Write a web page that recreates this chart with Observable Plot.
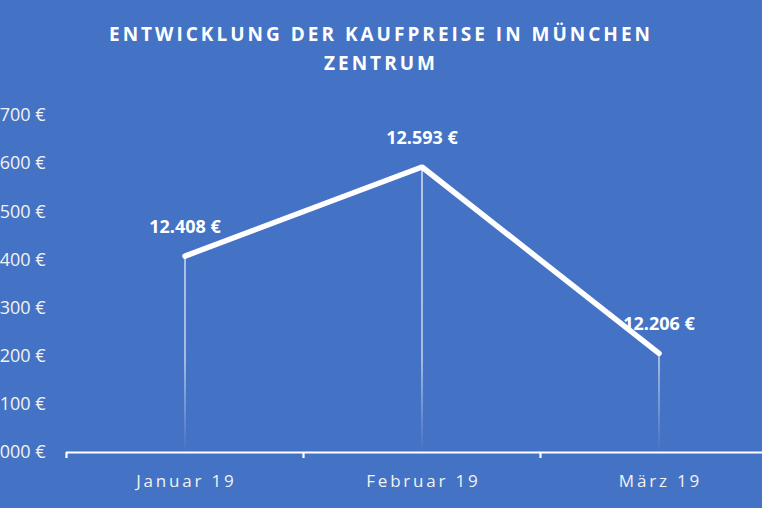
<!DOCTYPE html>
<html>
<head>
<meta charset="utf-8">
<script src="https://cdn.jsdelivr.net/npm/d3@7"></script>
<script src="https://cdn.jsdelivr.net/npm/@observablehq/plot@0.6"></script>
<style>
  html, body { margin: 0; padding: 0; background: #4472C4; overflow: hidden; }
  #title {
    height: 90px; box-sizing: border-box; padding-top: 20px;
    text-align: center; color: #ffffff;
    font-family: "Open Sans", sans-serif; font-weight: 700;
    font-size: 19px; line-height: 29px; letter-spacing: 3.0px;
  }
  #chart svg { display: block; }
  #chart svg text.month { letter-spacing: 2.8px; }
</style>
</head>
<body>
<div id="title">ENTWICKLUNG DER KAUFPREISE IN MÜNCHEN<br>ZENTRUM</div>
<div id="chart"></div>
<script>
const months = ["Januar 19", "Februar 19", "März 19"];
const prices = [12408, 12593, 12206];
const yTicks = [12000, 12100, 12200, 12300, 12400, 12500, 12600, 12700];

const de = d3.formatLocale({decimal: ",", thousands: ".", grouping: [3], currency: ["", " €"]});
const fmt = v => de.format(",")(v) + " €";

const data = months.map((m, i) => ({month: m, pos: i + 0.5, price: prices[i]}));

const plot = Plot.plot({
  width: 762,
  height: 418,
  marginLeft: 66,
  marginRight: 0,
  marginTop: 25,
  marginBottom: 56,
  style: {background: "#4472C4", color: "#f2f2f2", fontFamily: "Open Sans, sans-serif", fontSize: "18px"},
  x: {domain: [0, 3], range: [66, 777], label: null},
  y: {domain: [12000, 12700], label: null},
  marks: [
    Plot.ruleX(data, {x: "pos", y1: 12000, y2: "price", stroke: "url(#dropFade)", strokeWidth: 1.3}),
    Plot.ruleY([12000], {stroke: "#ffffff", strokeWidth: 2.2}),
    Plot.axisX({ticks: [0, 1, 2], tickSize: 6, tickFormat: () => "", label: null, stroke: "#ffffff", strokeWidth: 2.2}),
    Plot.axisX({ticks: data.map(d => d.pos), tickSize: 0, tickPadding: 22, label: null,
      tickFormat: p => months[Math.floor(p)], fill: "#f2f2f2", fontSize: 17}),
    Plot.axisY({ticks: yTicks, tickSize: 0, tickPadding: 21, tickFormat: fmt, label: null, fill: "#f2f2f2", fontSize: 18}),
    Plot.line(data, {x: "pos", y: "price", stroke: "#ffffff", strokeWidth: 5.5, strokeLinecap: "round", strokeLinejoin: "miter"}),
    Plot.text(data, {x: "pos", y: "price", text: d => fmt(d.price), dy: -29, fill: "#ffffff",
      fontWeight: "bold", fontSize: 18, lineAnchor: "middle"})
  ]
});

const svg = d3.select(plot);
svg.selectAll("text").filter(function() { return months.includes(this.textContent); })
  .classed("month", true).attr("dx", 1.4).style("letter-spacing", "2.8px");
const defs = svg.insert("defs", ":first-child");
const g = defs.append("linearGradient")
  .attr("id", "dropFade").attr("gradientUnits", "userSpaceOnUse")
  .attr("x1", 0).attr("x2", 0).attr("y1", 25).attr("y2", 362);
g.append("stop").attr("offset", 0).attr("stop-color", "#ffffff").attr("stop-opacity", 0.95);
g.append("stop").attr("offset", 0.72).attr("stop-color", "#ffffff").attr("stop-opacity", 0.8);
g.append("stop").attr("offset", 1).attr("stop-color", "#ffffff").attr("stop-opacity", 0.0);

document.getElementById("chart").appendChild(plot);
</script>
</body>
</html>
